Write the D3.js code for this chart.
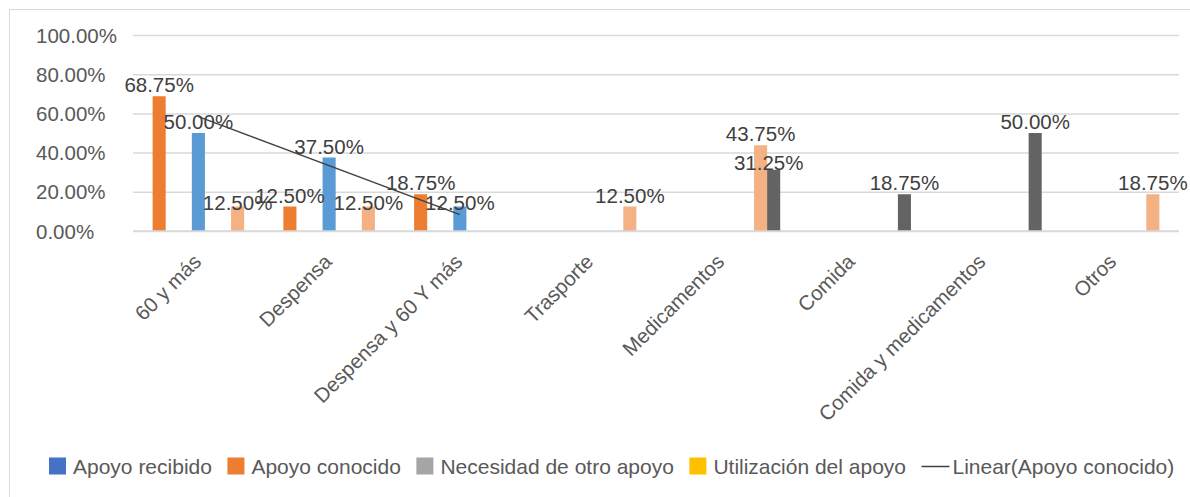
<!DOCTYPE html>
<html>
<head>
<meta charset="utf-8">
<script src="https://cdn.jsdelivr.net/npm/d3@7"></script>
<style>
  html, body { margin: 0; padding: 0; background: #fff; }
  svg { display: block; font-family: "Liberation Sans", Arial, sans-serif; }
</style>
</head>
<body>
<svg id="chart" width="1190" height="497"></svg>
<script>
// ---- data ----
const categories = ["60 y más", "Despensa", "Despensa y 60 Y más", "Trasporte",
  "Medicamentos", "Comida", "Comida y medicamentos", "Otros"];
const legendNames = ["Apoyo recibido", "Apoyo conocido", "Necesidad de otro apoyo", "Utilización del apoyo"];
const trendName = "Linear(Apoyo conocido)";
const apoyoRecibido   = [null, null, null, null, null, null, null, null];
const apoyoConocido   = [0.6875, 0.125, 0.1875, null, null, null, null, null];
const necesidadApoyo  = [null, null, null, null, null, null, null, null];
const utilizacion     = [null, null, null, null, null, null, null, null];
const serieAzulClaro  = [0.50, 0.375, 0.125, null, null, null, null, null];
const serieVacia6     = [null, null, null, null, null, null, null, null];
const serieVacia7     = [null, null, null, null, null, null, null, null];
const serieNaranjaClaro = [0.125, 0.125, null, 0.125, 0.4375, null, null, 0.1875];
const serieGrisOscuro = [null, null, null, null, 0.3125, 0.1875, 0.50, null];
const yTicks = [0, 0.2, 0.4, 0.6, 0.8, 1.0];

// ---- series setup (slot order = series order) ----
const series = [
  { key: "recibido", values: apoyoRecibido, color: "#4472C4" },
  { key: "conocido", values: apoyoConocido, color: "#ED7D31" },
  { key: "necesidad", values: necesidadApoyo, color: "#A5A5A5" },
  { key: "utilizacion", values: utilizacion, color: "#FFC000" },
  { key: "azul", values: serieAzulClaro, color: "#5B9BD5" },
  { key: "v6", values: serieVacia6, color: "#70AD47" },
  { key: "v7", values: serieVacia7, color: "#264478" },
  { key: "naranja", values: serieNaranjaClaro, color: "#F4B183" },
  { key: "gris", values: serieGrisOscuro, color: "#636363" }
];
const legendColors = ["#4472C4", "#ED7D31", "#A5A5A5", "#FFC000"];

// manual label offsets seen in the original
const labelNudge = {
  "naranja|0": [0, 7], "naranja|1": [0, 7], "azul|2": [0, 7], "gris|4": [-5, 4]
};

const svg = d3.select("#chart");
svg.append("rect").attr("x", 0).attr("y", 0).attr("width", 1190).attr("height", 497).attr("fill", "#fff");
svg.append("rect").attr("x", 9.5).attr("y", 9.5).attr("width", 1200).attr("height", 520)
  .attr("fill", "none").attr("stroke", "#d9d9d9").attr("stroke-width", 1);

const plot = { left: 133, right: 1179, top: 35, bottom: 231 };

const x0 = d3.scaleBand().domain(categories).range([plot.left, plot.right]).padding(0);
const x1 = d3.scaleBand().domain(d3.range(series.length)).range([0, x0.bandwidth()])
  .paddingInner(0).paddingOuter(0.5);
const y = d3.scaleLinear().domain([0, 1]).range([plot.bottom, plot.top]);

const fmt = v => (v * 100).toFixed(2) + "%";

// gridlines
const yAxis = d3.axisLeft(y).tickValues(yTicks).tickSize(-(plot.right - plot.left)).tickFormat(fmt);
const gy = svg.append("g").attr("transform", `translate(${plot.left},0)`).call(yAxis);
gy.select(".domain").remove();
gy.selectAll(".tick line").attr("stroke", "#d9d9d9").attr("stroke-width", 1.5);
gy.selectAll(".tick text")
  .attr("x", 36 - plot.left).attr("dy", "0.35em")
  .attr("text-anchor", "start")
  .attr("fill", "#595959").style("font-size", "20.5px")
  .style("font-family", "'Liberation Sans', Arial, sans-serif");

// bars
series.forEach((s, si) => {
  const pts = s.values.map((v, i) => ({ v, i })).filter(d => d.v != null);
  svg.append("g").selectAll("rect").data(pts).join("rect")
    .attr("x", d => x0(categories[d.i]) + x1(si))
    .attr("y", d => y(d.v))
    .attr("width", x1.bandwidth())
    .attr("height", d => y(0) - y(d.v))
    .attr("fill", s.color);
});

// trendline (linear regression of Apoyo conocido)
{
  const pts = apoyoConocido.map((v, i) => ({ x: i + 1, v })).filter(d => d.v != null);
  const mx = d3.mean(pts, d => d.x), my = d3.mean(pts, d => d.v);
  const slope = d3.sum(pts, d => (d.x - mx) * (d.v - my)) / d3.sum(pts, d => (d.x - mx) ** 2);
  const icpt = my - slope * mx;
  const ends = [pts[0].x, pts[pts.length - 1].x].map(xx => ({ x: xx, v: icpt + slope * xx }));
  svg.append("path")
    .attr("d", d3.line().x(d => x0(categories[d.x - 1]) + x0.bandwidth() / 2).y(d => y(d.v))(ends))
    .attr("fill", "none").attr("stroke", "#404040").attr("stroke-width", 1.5);
}

// data labels
series.forEach((s, si) => {
  const pts = s.values.map((v, i) => ({ v, i })).filter(d => d.v != null);
  svg.append("g").selectAll("text").data(pts).join("text")
    .attr("x", d => x0(categories[d.i]) + x1(si) + x1.bandwidth() / 2 + ((labelNudge[s.key + "|" + d.i] || [0, 0])[0]))
    .attr("y", d => y(d.v) - 4 + ((labelNudge[s.key + "|" + d.i] || [0, 0])[1]))
    .attr("text-anchor", "middle")
    .attr("fill", "#404040")
    .style("font-size", "20.5px")
    .text(d => fmt(d.v));
});

// x axis line
svg.append("line").attr("x1", plot.left).attr("x2", plot.right)
  .attr("y1", plot.bottom).attr("y2", plot.bottom)
  .attr("stroke", "#d9d9d9").attr("stroke-width", 1.5);

// x labels
svg.append("g").selectAll("text").data(categories).join("text")
  .attr("transform", d => `translate(${x0(d) + x0.bandwidth() / 2 + 4},${plot.bottom + 32}) rotate(-45)`)
  .attr("text-anchor", "end")
  .attr("fill", "#595959")
  .style("font-size", "20.5px")
  .text(d => d);

// legend
{
  const lg = svg.append("g");
  let cx = 49;
  const baseY = 473.5;
  legendNames.forEach((name, i) => {
    lg.append("rect").attr("x", cx).attr("y", 457.5).attr("width", 17).attr("height", 17).attr("fill", legendColors[i]);
    const t = lg.append("text").attr("x", cx + 24).attr("y", baseY)
      .attr("fill", "#595959").style("font-size", "21px").text(name);
    cx = cx + 24 + t.node().getComputedTextLength() + 15.5;
  });
  lg.append("line").attr("x1", cx).attr("x2", cx + 28).attr("y1", 466.5).attr("y2", 466.5)
    .attr("stroke", "#404040").attr("stroke-width", 1.5);
  lg.append("text").attr("x", cx + 31).attr("y", baseY)
    .attr("fill", "#595959").style("font-size", "21px").text(trendName);
}
</script>
</body>
</html>
